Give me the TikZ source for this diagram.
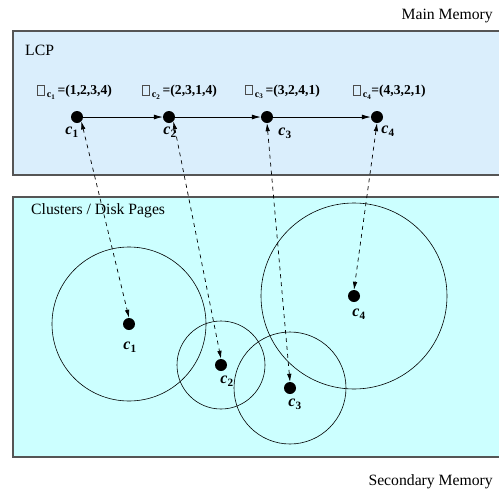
\documentclass[tikz,border=0pt]{standalone}
\usepackage{fontspec}
\setmainfont{Liberation Serif}
\usetikzlibrary{arrows.meta}
\definecolor{mainfill}{HTML}{DAEEFC}
\definecolor{diskfill}{HTML}{CCFFFF}
\definecolor{framegray}{HTML}{555555}
\newcommand{\missbox}{{\setlength{\fboxsep}{0pt}\setlength{\fboxrule}{0.5pt}\color{black!70}\fbox{\rule{0pt}{9pt}\hspace{6.5pt}}}}
\newcommand{\psub}[1]{\raisebox{-3pt}{\fontsize{10}{12}\selectfont\bfseries c\textsubscript{#1}}}
\newcommand{\perm}[2]{\missbox\,\psub{#1}\,\textbf{=(#2)}}
\newcommand{\cname}[1]{\textbf{\textit{c}}\textsubscript{\textbf{#1}}}
\begin{document}
\begin{tikzpicture}[x=1pt, y=-1pt, font=\fontsize{15.7}{18}\selectfont,
	dot/.style={circle, fill=black, inner sep=0pt, minimum size=12pt},
	memory/.style={draw=framegray, line width=1.2pt},
	clabel/.style={inner sep=0pt, font=\fontsize{16}{18}\selectfont},
	plabel/.style={inner sep=0pt, anchor=west, font=\fontsize{13.6}{16}\selectfont},
	link/.style={-{Latex[length=9pt, width=5pt]}, line width=0.8pt},
	ref/.style={{Latex[length=8pt, width=4.5pt]}-{Latex[length=8pt, width=4.5pt]}, line width=0.7pt, dash pattern=on 4pt off 4pt}]

	\useasboundingbox (0,0) rectangle (499,491);

	\filldraw[memory, fill=mainfill] (13,31) rectangle (510,175);
	\filldraw[memory, fill=diskfill] (13,197) rectangle (510,457);

	\node[anchor=east, inner sep=0pt] (mm) at (493,16) {Main Memory};
	\node[anchor=east, inner sep=0pt] (sm) at (493,482) {Secondary Memory};
	\node[anchor=west, inner sep=0pt] (lcp) at (25,50) {LCP};
	\node[anchor=west, inner sep=0pt] (cdp) at (31,211) {Clusters / Disk Pages};

	\node[plabel] (p1) at (37,92) {\perm{1}{1,2,3,4}};
	\node[plabel] (p2) at (142,92) {\perm{2}{2,3,1,4}};
	\node[plabel] (p3) at (245,92) {\perm{3}{3,2,4,1}};
	\node[plabel] (p4) at (353,92) {\missbox\,\psub{4}\textbf{=(4,3,2,1)}};

	\node[dot] (t1) at (77,117) {};
	\node[dot] (t2) at (169,117) {};
	\node[dot] (t3) at (267,117) {};
	\node[dot] (t4) at (377,117) {};

	\node[clabel] (tl1) at (72,132) {\cname{1}};
	\node[clabel] (tl2) at (170,132) {\cname{2}};
	\node[clabel] (tl3) at (285,133) {\cname{3}};
	\node[clabel] (tl4) at (388,131) {\cname{4}};

	\node[dot] (d1) at (129,324) {};
	\node[dot] (d2) at (221,365) {};
	\node[dot] (d3) at (290,388) {};
	\node[dot] (d4) at (354,296) {};

	\node[clabel] (dl1) at (130,347) {\cname{1}};
	\node[clabel] (dl2) at (227,381) {\cname{2}};
	\node[clabel] (dl3) at (295,404) {\cname{3}};
	\node[clabel] (dl4) at (359,314) {\cname{4}};

	\draw[line width=0.6pt] (d1) circle[radius=77pt];
	\draw[line width=0.6pt] (d2) circle[radius=44pt];
	\draw[line width=0.6pt] (d3) circle[radius=56pt];
	\draw[line width=0.6pt] (d4) circle[radius=93pt];

	\draw[link] (t1) -- (t2);
	\draw[link] (t2) -- (t3);
	\draw[link] (t3) -- (t4);

	\draw[ref] (t1.south east) -- (d1.north);
	\draw[ref] (t2.south east) -- (d2.north);
	\draw[ref] (t3.south) -- (d3.north);
	\draw[ref] (t4.south) -- (d4.north);
\end{tikzpicture}
\end{document}
